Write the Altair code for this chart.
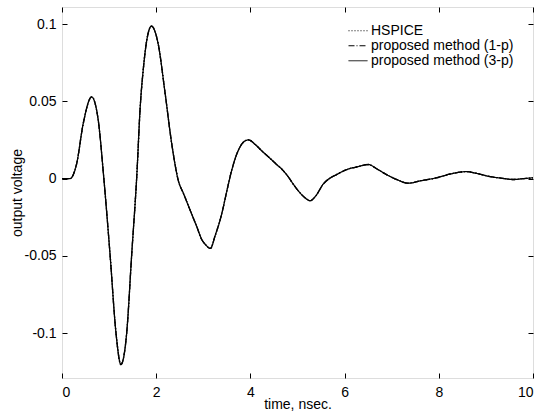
import altair as alt
import pandas as pd

# time (ns) and output voltage
time_ns = [0.0, 0.17, 0.31, 0.45, 0.63, 0.77, 0.88, 1.02, 1.15, 1.25, 1.37, 1.48, 1.59,
           1.66, 1.73, 1.80, 1.90, 2.04, 2.19, 2.33, 2.47, 2.58, 2.72, 2.86, 2.97, 3.05,
           3.15, 3.25, 3.39, 3.50, 3.60, 3.74, 3.85, 3.96, 4.10, 4.25, 4.42, 4.55, 4.66,
           4.80, 4.91, 5.05, 5.17, 5.27, 5.38, 5.55, 5.70, 5.83, 6.04, 6.25, 6.50, 6.70,
           6.89, 7.10, 7.35, 7.60, 7.95, 8.25, 8.59, 8.85, 9.09, 9.35, 9.58, 9.80, 10.0]
voltage = [0.0, 0.0, 0.0095, 0.0355, 0.0528, 0.0376, 0.003, -0.049, -0.101, -0.1203, -0.101,
           -0.049, 0.003, 0.046, 0.072, 0.0895, 0.0986, 0.0874, 0.055, 0.0225, -0.0013,
           -0.0097, -0.0204, -0.031, -0.0396, -0.0428, -0.0452, -0.037, -0.023, -0.008, 0.005,
           0.018, 0.0235, 0.0251, 0.0221, 0.0177, 0.013, 0.0093, 0.0063, 0.0013, -0.0036,
           -0.0091, -0.0127, -0.0143, -0.0115, -0.0034, 0.0005, 0.0026, 0.0058, 0.0075,
           0.0091, 0.006, 0.0026, -0.0005, -0.003, -0.0015, 0.0005, 0.003, 0.0045, 0.003,
           0.0013, 0.0002, -0.0006, 0.0, 0.0005]

series = ["HSPICE", "proposed method (1-p)", "proposed method (3-p)"]
dashes = [[1, 2], [6, 2, 1, 2], [1, 0]]

x_ticks = [0, 2, 4, 6, 8, 10]
y_ticks = [-0.1, -0.05, 0, 0.05, 0.1]

rows = []
for s in series:
    for t, v in zip(time_ns, voltage):
        rows.append({"t": t, "v": v, "series": s})
df = pd.DataFrame(rows)

FONT = "Liberation Sans"
W, H = 471, 371
TICK = 5

x_scale = alt.Scale(domain=[0, 10], nice=False, zero=False)
y_scale = alt.Scale(domain=[-0.129, 0.111], nice=False, zero=False)

common_axis = dict(domain=False, grid=False, ticks=True, tickSize=TICK, tickColor="black",
                   tickWidth=1, offset=-TICK, labelFont=FONT, labelFontSize=14,
                   labelColor="black", titleFont=FONT, titleFontSize=14,
                   titleColor="black", titleFontWeight="normal")

base = alt.Chart(df)

lines = base.mark_line(
    interpolate="monotone", color="black", strokeWidth=1.3
).encode(
    x=alt.X("t:Q", scale=x_scale,
            axis=alt.Axis(orient="bottom", values=x_ticks, title="time, nsec.",
                          labelExpr="datum.value + ''", labelPadding=7, titlePadding=-2,
                          **common_axis)),
    y=alt.Y("v:Q", scale=y_scale,
            axis=alt.Axis(orient="left", values=y_ticks, title="output voltage",
                          labelExpr="datum.value + ''", labelPadding=6, titlePadding=0,
                          **common_axis)),
    strokeDash=alt.StrokeDash("series:N",
                              scale=alt.Scale(domain=series, range=dashes),
                              legend=alt.Legend(orient="none", legendX=286, legendY=18,
                                                title=None, symbolType="stroke",
                                                symbolSize=361, symbolStrokeWidth=1,
                                                symbolStrokeColor="black",
                                                labelFont=FONT, labelFontSize=14,
                                                labelColor="black", labelOffset=3,
                                                clipHeight=11.5, rowPadding=0,
                                                padding=0)),
)

frame = base.mark_line(opacity=0).encode(
    x=alt.X("t:Q", scale=x_scale,
            axis=alt.Axis(orient="top", values=x_ticks, title=None, labels=False,
                          **common_axis)),
    y=alt.Y("v:Q", scale=y_scale,
            axis=alt.Axis(orient="right", values=y_ticks, title=None, labels=False,
                          **common_axis)),
)

chart = alt.layer(lines, frame).resolve_axis(
    x="independent", y="independent"
).properties(
    width=W, height=H,
    autosize=alt.AutoSizeParams(type="none"),
    padding={"left": 62, "top": 7, "right": 10, "bottom": 36},
).configure_view(
    stroke="black", strokeWidth=1
).configure(background="white")

chart.save("out.html", embed_options={"renderer": "svg", "actions": False})
